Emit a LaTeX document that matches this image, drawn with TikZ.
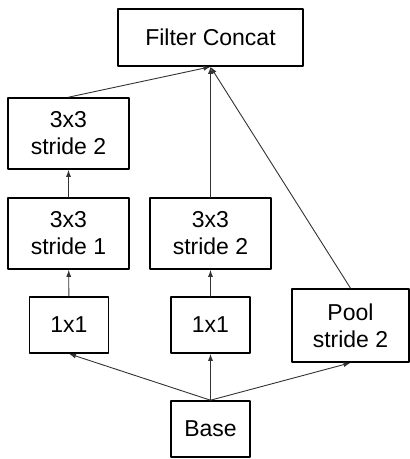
\documentclass[tikz,border=0pt]{standalone}
\usepackage{fontspec}
\setmainfont{Liberation Sans}
\usetikzlibrary{arrows.meta}
\tikzset{
  hop/.style={draw,line width=1.6pt,align=center,inner sep=0pt,font=\fontsize{23}{27}\selectfont},
  tang/.style={hop,minimum width=121pt,minimum height=71pt},
  nho/.style={hop,minimum width=79pt,minimum height=56pt},
  mui/.style={-{Latex[length=7pt,width=5pt]},line width=0.9pt,color=black!80}
}
\begin{document}
\begin{tikzpicture}[line cap=round,line join=round,x=1pt,y=1pt]
		\useasboundingbox (0,0) rectangle (410,459);
		%Cac khoi
		\node[hop,minimum width=185pt,minimum height=57pt] (concat) at (210.5,421.5) {Filter Concat};
		\node[tang] (tren) at (68.5,325.5) {3x3\\stride 2};
		\node[tang] (giua) at (68.5,225.5) {3x3\\stride 1};
		\node[tang] (phai) at (210.5,225.5) {3x3\\stride 2};
		\node[nho] (motA) at (69,134) {1x1};
		\node[nho] (motB) at (210.5,134) {1x1};
		\node[hop,minimum width=117pt,minimum height=73pt] (pool) at (350.5,133.5) {Pool\\stride 2};
		\node[nho] (base) at (210.5,30) {Base};
		%Cac mui ten
		\draw[mui] (base.north) -- (motA.south);
		\draw[mui] (base.north) -- (motB.south);
		\draw[mui] (base.north) -- (pool.south);
		\draw[mui] (motA) -- (giua);
		\draw[mui] (giua) -- (tren);
		\draw[mui] (motB) -- (phai);
		\draw[mui] (tren.north) -- (concat.south);
		\draw[mui] (phai.north) -- (concat.south);
		\draw[mui] (pool.north) -- (concat.south);
	\end{tikzpicture}
\end{document}
